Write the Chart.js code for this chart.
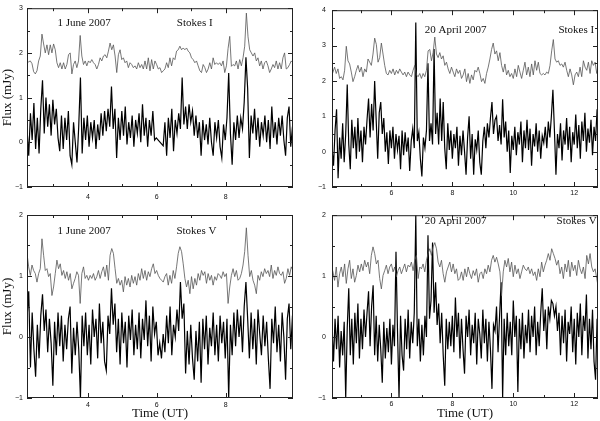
<!DOCTYPE html>
<html>
<head>
<meta charset="utf-8">
<script src="https://cdn.jsdelivr.net/npm/chart.js@4.4.1/dist/chart.umd.min.js"></script>
<style>
  body { margin: 0; background: #fff; }
  #wrap { position: relative; width: 600px; height: 421px; }
  canvas { position: absolute; }
</style>
</head>
<body>
<div id="wrap">
  <canvas id="juneI" width="300" height="205" style="left:0;top:0"></canvas>
  <canvas id="aprilI" width="300" height="205" style="left:300px;top:0"></canvas>
  <canvas id="juneV" width="300" height="216" style="left:0;top:205px"></canvas>
  <canvas id="aprilV" width="300" height="216" style="left:300px;top:205px"></canvas>
</div>
<script>
// sampling of the time series (hours UT)
const juneStart = 2.235, juneSmoothStep = 0.0482, juneNoisyStep = 0.05;
const aprilStart = 4.026, aprilSmoothStep = 0.0548, aprilNoisyStart = 4.05, aprilNoisyStep = 0.05;

// 1 June 2007, Stokes I
const juneSmoothI = [
  1.78,1.80,1.82,1.76,1.58,1.53,1.60,1.82,1.93,2.42,
  2.20,2.00,2.18,1.96,2.18,2.00,2.20,2.07,1.78,1.67,
  1.78,1.64,1.78,1.64,1.74,1.96,2.00,1.53,1.74,1.82,
  1.67,1.82,2.39,1.93,1.74,1.82,1.71,1.82,1.78,1.85,
  1.78,1.74,1.64,1.74,1.89,1.82,1.93,1.96,1.89,2.04,
  2.22,2.07,2.18,1.93,1.56,1.96,2.07,1.85,1.89,1.78,
  1.82,1.67,1.78,1.74,1.67,1.71,1.64,1.78,1.67,1.74,
  1.64,1.82,1.64,1.89,1.60,1.85,1.64,1.82,1.74,1.64,
  1.67,1.56,1.60,1.64,1.78,1.67,1.89,1.71,1.89,1.85,
  2.04,2.07,2.15,2.07,2.11,2.07,2.11,2.04,2.00,1.89,
  1.85,1.78,1.82,1.71,1.60,1.56,1.74,1.67,1.56,1.64,
  1.78,1.64,1.89,1.74,1.78,1.74,1.78,1.71,1.82,1.56,
  1.71,2.10,2.37,1.70,1.74,1.71,1.82,1.64,1.85,1.71,
  1.89,2.15,2.89,2.36,2.07,2.00,1.93,2.00,1.82,1.89,
  1.71,1.82,1.64,1.78,1.82,1.71,1.56,1.64,1.74,1.67,
  1.82,1.64,1.78,1.64,1.89,2.00,1.64,1.67,1.74,1.82,
  1.78
];
const juneNoisyI = [
  0.30,-0.30,0.65,0.05,0.88,-0.15,0.55,-0.25,0.75,1.39,
  0.20,1.00,0.35,0.85,0.15,0.95,0.40,0.75,0.10,-0.20,
  0.60,-0.15,0.55,0.05,0.70,-0.30,-0.50,0.45,0.00,-0.45,
  0.35,1.45,-0.25,0.55,0.05,0.60,-0.10,0.45,0.10,0.50,
  -0.15,0.40,0.05,0.65,0.15,0.70,0.25,0.75,0.35,1.25,
  0.30,0.75,-0.35,0.55,0.05,0.70,0.15,0.80,-0.05,0.45,
  0.10,0.60,-0.10,0.50,0.20,0.65,0.00,0.85,0.15,0.55,
  -0.10,0.50,0.15,0.70,0.05,0.10,null,null,null,-0.08,
  0.45,-0.30,0.55,0.10,0.75,-0.20,0.50,0.20,0.65,0.30,
  1.45,0.40,0.80,0.30,0.85,0.45,0.70,0.15,0.60,0.10,
  0.45,-0.30,0.50,0.05,0.40,-0.05,0.55,0.00,-0.30,0.45,
  0.10,0.50,-0.10,-0.35,0.40,0.05,0.55,1.55,0.20,-0.50,
  0.45,0.05,0.60,0.10,0.55,0.30,0.90,1.90,1.20,-0.35,
  0.60,0.20,0.75,0.05,0.55,-0.10,0.45,0.15,0.60,0.00,
  0.50,-0.15,0.80,0.10,0.45,-0.05,0.55,0.15,0.60,0.05,
  -0.30,0.55,0.80,-0.10,0.35
];

// 20 April 2007, Stokes I
const aprilSmoothI = [
  2.12,2.25,2.39,2.21,2.34,2.07,2.12,2.03,2.30,2.98,
  2.57,2.48,2.25,1.98,2.12,2.30,2.44,2.25,2.39,2.12,
  2.34,2.25,2.62,2.53,2.44,2.76,3.21,3.03,2.53,2.66,
  3.07,2.76,2.44,2.21,2.17,2.30,2.21,2.34,2.17,2.30,
  2.21,2.34,2.25,2.17,2.25,2.12,2.25,2.17,2.12,2.30,
  2.44,2.17,2.12,2.21,2.07,2.21,2.12,2.30,2.85,2.89,
  2.57,2.80,3.24,2.76,2.66,2.80,2.62,2.71,2.44,2.53,
  2.34,2.21,2.39,2.25,2.12,2.34,2.21,2.30,2.07,2.17,
  2.34,1.98,2.21,1.93,2.17,2.03,2.30,2.25,2.39,2.21,
  1.98,2.07,1.93,2.21,2.39,2.62,2.89,3.07,2.76,2.85,
  2.57,2.80,2.44,2.25,2.48,2.17,2.30,2.12,2.21,2.07,
  2.34,2.12,2.44,2.25,2.07,2.30,2.53,2.17,2.39,2.12,
  2.48,2.17,2.57,2.30,2.53,2.21,2.17,2.21,2.17,2.25,
  2.21,2.44,2.85,3.17,2.62,2.53,2.57,2.44,2.48,2.39,
  2.53,2.30,2.12,2.34,2.17,1.89,2.17,2.25,2.12,2.39,
  2.12,2.57,2.39,2.30,2.53,2.21,2.57,2.44,2.53,2.21,
  2.53
];
const aprilNoisyI = [
  0.10,-0.40,0.60,1.20,-0.75,0.40,-0.20,0.80,-0.30,0.50,
  1.90,0.20,-0.50,0.90,0.10,0.70,-0.20,0.95,0.00,0.60,
  -0.30,0.70,0.20,0.90,1.50,0.40,1.35,0.60,2.00,0.90,
  -0.20,1.10,1.40,0.50,0.95,0.00,0.55,-0.35,0.60,0.10,
  0.70,-0.20,0.50,0.05,0.45,-0.50,0.60,-0.10,0.55,0.00,
  0.40,-0.55,0.30,0.65,0.10,3.65,0.30,0.55,-0.20,-0.70,
  0.40,0.10,0.60,2.50,0.30,0.80,0.20,2.90,0.50,1.10,
  0.20,1.50,0.30,1.40,0.10,-0.50,0.80,0.05,0.60,-0.20,
  0.50,0.10,0.70,-0.40,0.45,-0.10,0.60,0.00,-0.65,0.40,
  1.00,-0.20,0.50,-0.65,0.35,0.05,0.60,-0.30,-0.65,0.30,
  0.70,0.10,0.80,0.40,0.95,1.40,0.50,0.90,1.00,0.30,
  0.75,0.20,1.48,0.40,0.85,0.00,0.60,-0.60,0.45,0.05,
  0.70,-0.10,0.55,0.20,0.85,-0.30,0.60,0.10,0.90,0.05,
  0.65,-0.40,0.50,0.15,0.80,0.00,0.60,-0.20,0.45,0.25,
  0.70,0.10,0.85,0.40,1.00,1.75,0.60,-0.65,0.50,0.10,
  0.80,-0.25,0.60,0.20,0.95,0.05,0.70,-0.30,0.55,0.20,
  1.05,0.10,0.75,-0.20,0.85,0.30,1.10,0.00,0.65,0.25,
  0.90,-0.10,0.70,0.30,1.20
];

// 1 June 2007, Stokes V
const juneSmoothV = [
  1.37,1.15,1.01,1.18,1.09,1.04,0.90,1.04,1.12,1.61,
  1.34,1.09,1.12,0.99,1.04,0.68,0.82,1.04,1.26,1.12,
  1.20,1.01,1.09,0.96,1.07,0.93,1.04,0.79,0.88,0.96,
  1.07,1.01,0.55,1.04,1.15,0.96,1.01,0.93,1.01,0.96,
  1.04,0.93,0.99,1.09,0.96,1.07,1.15,0.99,1.18,0.93,
  1.34,1.45,1.37,1.12,0.88,0.96,0.85,0.93,0.74,0.99,
  0.85,0.96,0.82,1.01,0.88,0.99,0.85,1.04,0.93,1.12,
  0.96,1.09,0.93,1.07,0.99,1.12,1.20,1.04,1.09,1.01,
  0.96,0.93,0.90,0.99,1.04,0.85,1.01,0.88,1.09,0.96,
  1.15,1.37,1.48,1.40,1.20,0.96,0.82,0.93,0.71,0.99,
  0.79,0.96,0.85,1.04,0.93,1.09,1.01,1.07,0.88,1.04,
  0.93,1.01,0.85,0.99,0.93,1.04,1.01,0.96,1.07,0.99,
  1.04,0.55,0.82,1.01,1.12,0.99,1.09,0.93,0.96,1.04,
  1.18,1.40,1.79,1.34,0.99,1.09,0.93,0.85,0.71,1.01,
  0.93,1.07,0.99,1.12,1.04,1.09,0.99,1.18,0.96,1.09,
  1.01,1.15,1.04,1.01,1.07,0.88,0.96,1.12,1.01,1.15,
  1.09
];
const juneNoisyV = [
  0.30,0.75,-0.50,0.40,-0.20,-0.65,0.20,-0.35,0.35,0.70,
  0.10,0.45,-0.25,0.30,-0.10,-0.80,0.25,-0.30,0.40,-0.15,
  0.35,-0.40,0.20,-0.20,0.30,0.50,-0.60,0.15,-0.30,0.25,
  -0.20,-1.00,0.35,-0.15,0.40,-0.30,0.20,-0.45,0.45,0.00,
  0.30,-0.35,0.55,-0.10,0.25,-0.40,-0.55,0.35,0.05,0.80,
  0.20,0.55,-0.25,0.30,-0.45,0.40,-0.10,0.25,-0.50,0.35,
  -0.05,0.45,-0.30,0.20,-0.20,0.40,-0.35,0.30,-0.05,0.60,
  -0.15,0.35,-0.40,0.50,0.05,0.25,-0.30,-0.10,-0.35,0.05,
  -0.25,0.35,-0.10,0.50,-0.30,0.20,0.00,0.45,0.10,0.90,
  0.30,0.55,-0.60,0.10,-0.45,0.20,-0.35,-0.70,0.10,-0.40,
  0.25,-0.75,0.30,-0.20,0.35,-0.45,0.15,-0.15,0.40,-0.30,
  0.20,-0.40,0.35,-0.10,0.25,-0.35,0.30,-1.00,0.20,-0.30,
  0.40,-0.15,0.45,0.00,0.35,-0.25,0.50,0.90,0.30,-0.35,
  0.40,-0.20,0.30,-0.45,0.45,0.05,-0.30,0.35,-0.15,0.25,
  -0.35,-0.85,0.30,-0.10,0.50,-0.25,0.20,-0.40,0.40,0.00,
  -0.70,0.30,0.55,-0.20,0.35
];

// 20 April 2007, Stokes V
const aprilSmoothV = [
  1.18,1.07,0.93,1.15,0.82,1.04,1.15,0.99,1.20,0.88,
  1.12,1.26,0.96,1.12,0.90,1.01,1.18,1.07,1.20,1.09,
  1.26,1.15,1.23,1.04,1.34,1.48,1.37,1.20,1.26,0.96,
  0.79,1.01,1.09,1.18,1.04,1.15,1.20,1.07,1.15,0.99,
  1.09,1.15,1.04,1.12,1.20,1.07,1.18,1.15,1.23,1.09,
  1.26,1.34,0.96,1.15,1.12,1.20,1.07,1.26,1.37,1.45,
  1.34,1.48,1.55,1.45,1.23,1.15,1.26,1.04,0.90,1.07,
  1.15,1.23,1.07,1.20,1.04,1.12,0.93,0.96,1.07,0.93,
  1.12,0.99,1.15,1.04,0.96,1.09,1.01,1.12,0.90,1.04,
  1.07,0.96,1.12,1.04,1.18,1.07,1.26,1.34,1.23,1.31,
  1.20,1.07,0.68,1.07,1.26,1.15,1.29,1.07,1.23,0.99,
  1.18,1.04,1.12,0.96,1.07,1.18,1.12,1.09,1.15,1.04,
  1.12,1.01,1.07,0.93,1.12,0.99,1.23,1.07,1.18,1.26,
  1.37,1.26,1.45,1.37,1.29,1.18,1.26,1.04,1.15,0.96,
  1.20,1.07,1.26,0.99,1.23,1.09,1.18,1.01,1.26,1.12,
  1.04,1.15,0.96,1.34,1.20,1.37,1.15,1.07,1.12,0.96,
  0.80
];
const aprilNoisyV = [
  0.20,-0.40,0.30,-0.20,0.35,-0.50,0.10,-0.30,0.25,-1.00,
  0.15,0.80,-0.30,0.30,-0.45,0.40,-0.10,0.55,-0.35,0.30,
  -0.20,0.45,0.00,0.40,0.75,-0.15,0.50,0.85,-0.30,0.35,
  -0.40,0.20,-0.20,-0.75,0.25,-0.35,0.15,-0.25,0.30,-0.45,
  0.20,-0.15,1.40,0.10,-1.00,0.35,-0.30,-0.55,0.30,-0.20,
  0.45,-0.35,0.25,-0.10,0.40,2.00,-0.15,0.30,-0.40,0.20,
  -0.30,0.35,0.00,1.67,0.30,0.60,1.55,0.40,0.90,0.20,
  0.55,-0.10,0.40,-0.30,-0.80,0.30,-0.20,0.25,-0.15,0.35,
  -0.25,0.65,0.00,0.40,-0.35,0.30,-0.20,-0.60,0.35,0.00,
  0.45,-0.30,0.20,-0.10,0.40,-0.45,0.30,0.05,-0.35,0.45,
  -0.10,0.30,-0.40,0.25,-0.20,-0.85,0.20,0.10,0.50,-0.25,
  0.35,0.90,-1.00,0.30,-0.30,0.40,-0.15,0.25,-0.30,0.60,
  0.00,0.35,-0.90,0.30,-0.20,0.40,-0.35,0.20,-0.10,0.45,
  -0.25,0.35,0.00,0.50,-0.30,0.25,-0.15,0.40,0.80,0.10,
  0.45,-0.20,0.50,0.30,0.60,0.55,0.35,0.50,0.10,0.40,
  -0.30,0.35,-0.10,0.45,-0.40,0.25,0.05,0.50,-0.25,0.30,
  -0.45,0.40,0.00,0.55,-0.30,0.35,0.10,0.70,-0.35,0.30,
  -0.20,0.45,-0.40,-0.70,0.30
];

// axis ticks
const juneHourTicks = [3, 4, 5, 6, 7, 8, 9];
const aprilHourTicks = [5, 6, 7, 8, 9, 10, 11, 12];
const fluxTicksI_june = [-1, -0.5, 0, 0.5, 1, 1.5, 2, 2.5, 3];
const fluxTicksI_april = [-1, -0.5, 0, 0.5, 1, 1.5, 2, 2.5, 3, 3.5, 4];
const fluxTicksV = [-1, -0.5, 0, 0.5, 1, 1.5, 2];

const serif = '"Liberation Serif", "DejaVu Serif", serif';
const sans = '"Liberation Sans", "DejaVu Sans", sans-serif';

function toPoints(values, start, step) {
  return values.map((v, i) => ({ x: start + i * step, y: v }));
}

// inward ticks on all four sides, the box, and the panel captions
const framePlugin = {
  id: 'frame',
  afterDraw(chart, args, opts) {
    const { ctx, chartArea: a, scales: { x, y } } = chart;
    ctx.save();
    ctx.strokeStyle = '#222';
    ctx.lineWidth = 1;
    ctx.strokeRect(a.left + 0.5, a.top + 0.5, a.right - a.left - 1, a.bottom - a.top - 1);
    ctx.beginPath();
    x.ticks.forEach(t => {
      const px = Math.round(x.getPixelForValue(t.value)) + 0.5;
      const len = t.value % 2 === 0 ? 5 : 3;
      ctx.moveTo(px, a.bottom); ctx.lineTo(px, a.bottom - len);
      ctx.moveTo(px, a.top); ctx.lineTo(px, a.top + len);
    });
    y.ticks.forEach(t => {
      const py = Math.round(y.getPixelForValue(t.value)) + 0.5;
      const len = Number.isInteger(t.value) ? 5 : 3;
      ctx.moveTo(a.left, py); ctx.lineTo(a.left + len, py);
      ctx.moveTo(a.right, py); ctx.lineTo(a.right - len, py);
    });
    ctx.stroke();
    ctx.fillStyle = '#111';
    ctx.font = '11px ' + serif;
    ctx.textBaseline = 'middle';
    (opts.notes || []).forEach(n => {
      ctx.textAlign = n.align;
      ctx.fillText(n.text, x.getPixelForValue(n.x), y.getPixelForValue(n.y));
    });
    ctx.restore();
  }
};

function minusLabel(v) {
  return v < 0 ? '\u2212' + Math.abs(v) : String(v);
}

function makePanel(id, cfg) {
  return new Chart(document.getElementById(id), {
    type: 'line',
    data: {
      datasets: [
        { data: cfg.smooth, borderColor: '#555', borderWidth: 0.8 },
        { data: cfg.noisy, borderColor: '#000', borderWidth: 1.2 }
      ]
    },
    options: {
      responsive: false,
      animation: false,
      devicePixelRatio: 1,
      spanGaps: true,
      elements: { point: { radius: 0 }, line: { tension: 0 } },
      layout: { padding: cfg.padding },
      plugins: { legend: { display: false }, tooltip: { enabled: false }, frame: { notes: cfg.notes } },
      scales: {
        x: {
          type: 'linear', min: cfg.xMin, max: cfg.xMax,
          grid: { display: false, drawTicks: false },
          border: { display: false },
          afterBuildTicks: s => { s.ticks = cfg.xTicks.map(v => ({ value: v })); },
          afterFit: s => { s.height = cfg.xHeight; },
          ticks: {
            autoSkip: false, maxRotation: 0, padding: cfg.xPad, color: '#111',
            font: { family: sans, size: 7 },
            callback: v => (v % 2 === 0 ? minusLabel(v) : '')
          },
          title: {
            display: !!cfg.xTitle, text: cfg.xTitle, color: '#111',
            font: { family: serif, size: 13 }, padding: { top: 0, bottom: 0 }
          }
        },
        y: {
          min: cfg.yMin, max: cfg.yMax,
          grid: { display: false, drawTicks: false },
          border: { display: false },
          afterBuildTicks: s => { s.ticks = cfg.yTicks.map(v => ({ value: v })); },
          afterFit: s => { s.width = cfg.yWidth; },
          ticks: {
            autoSkip: false, padding: cfg.yPad, color: '#111',
            font: { family: sans, size: 7 },
            callback: v => (Number.isInteger(v) ? minusLabel(v) : '')
          },
          title: {
            display: !!cfg.yTitle, text: cfg.yTitle, color: '#111',
            font: { family: serif, size: 13 }, padding: { top: 0, bottom: 0 }
          }
        }
      }
    },
    plugins: [framePlugin]
  });
}

makePanel('juneI', {
  smooth: toPoints(juneSmoothI, juneStart, juneSmoothStep),
  noisy: toPoints(juneNoisyI, juneStart, juneNoisyStep),
  xMin: 2.235, xMax: 9.95, yMin: -1, yMax: 3,
  xTicks: juneHourTicks, yTicks: fluxTicksI_june,
  padding: { left: 0, right: 7, top: 5, bottom: 0 },
  xHeight: 18, yWidth: 27, xPad: 6, yPad: 4,
  yTitle: 'Flux (mJy)',
  notes: [
    { text: '1 June 2007', x: 3.89, y: 2.66, align: 'center' },
    { text: 'Stokes I', x: 7.1, y: 2.66, align: 'center' }
  ]
});

makePanel('aprilI', {
  smooth: toPoints(aprilSmoothI, aprilStart, aprilSmoothStep),
  noisy: toPoints(aprilNoisyI, aprilNoisyStart, aprilNoisyStep),
  xMin: 4.05, xMax: 12.78, yMin: -1, yMax: 4,
  xTicks: aprilHourTicks, yTicks: fluxTicksI_april,
  padding: { left: 0, right: 2, top: 5, bottom: 0 },
  xHeight: 18, yWidth: 32, xPad: 2, yPad: 6,
  notes: [
    { text: '20 April 2007', x: 8.11, y: 3.43, align: 'center' },
    { text: 'Stokes I', x: 11.48, y: 3.43, align: 'left' }
  ]
});

makePanel('juneV', {
  smooth: toPoints(juneSmoothV, juneStart, juneSmoothStep),
  noisy: toPoints(juneNoisyV, juneStart, juneNoisyStep),
  xMin: 2.235, xMax: 9.95, yMin: -1, yMax: 2,
  xTicks: juneHourTicks, yTicks: fluxTicksV,
  padding: { left: 0, right: 7, top: 10, bottom: 0 },
  xHeight: 23, yWidth: 27, xPad: 3, yPad: 4,
  xTitle: 'Time (UT)', yTitle: 'Flux (mJy)',
  notes: [
    { text: '1 June 2007', x: 3.89, y: 1.74, align: 'center' },
    { text: 'Stokes V', x: 7.15, y: 1.74, align: 'center' }
  ]
});

makePanel('aprilV', {
  smooth: toPoints(aprilSmoothV, aprilStart, aprilSmoothStep),
  noisy: toPoints(aprilNoisyV, aprilNoisyStart, aprilNoisyStep),
  xMin: 4.05, xMax: 12.78, yMin: -1, yMax: 2,
  xTicks: aprilHourTicks, yTicks: fluxTicksV,
  padding: { left: 0, right: 2, top: 10, bottom: 0 },
  xHeight: 23, yWidth: 32, xPad: 2, yPad: 6,
  xTitle: 'Time (UT)',
  notes: [
    { text: '20 April 2007', x: 8.11, y: 1.90, align: 'center' },
    { text: 'Stokes V', x: 11.42, y: 1.90, align: 'left' }
  ]
});
</script>
</body>
</html>
